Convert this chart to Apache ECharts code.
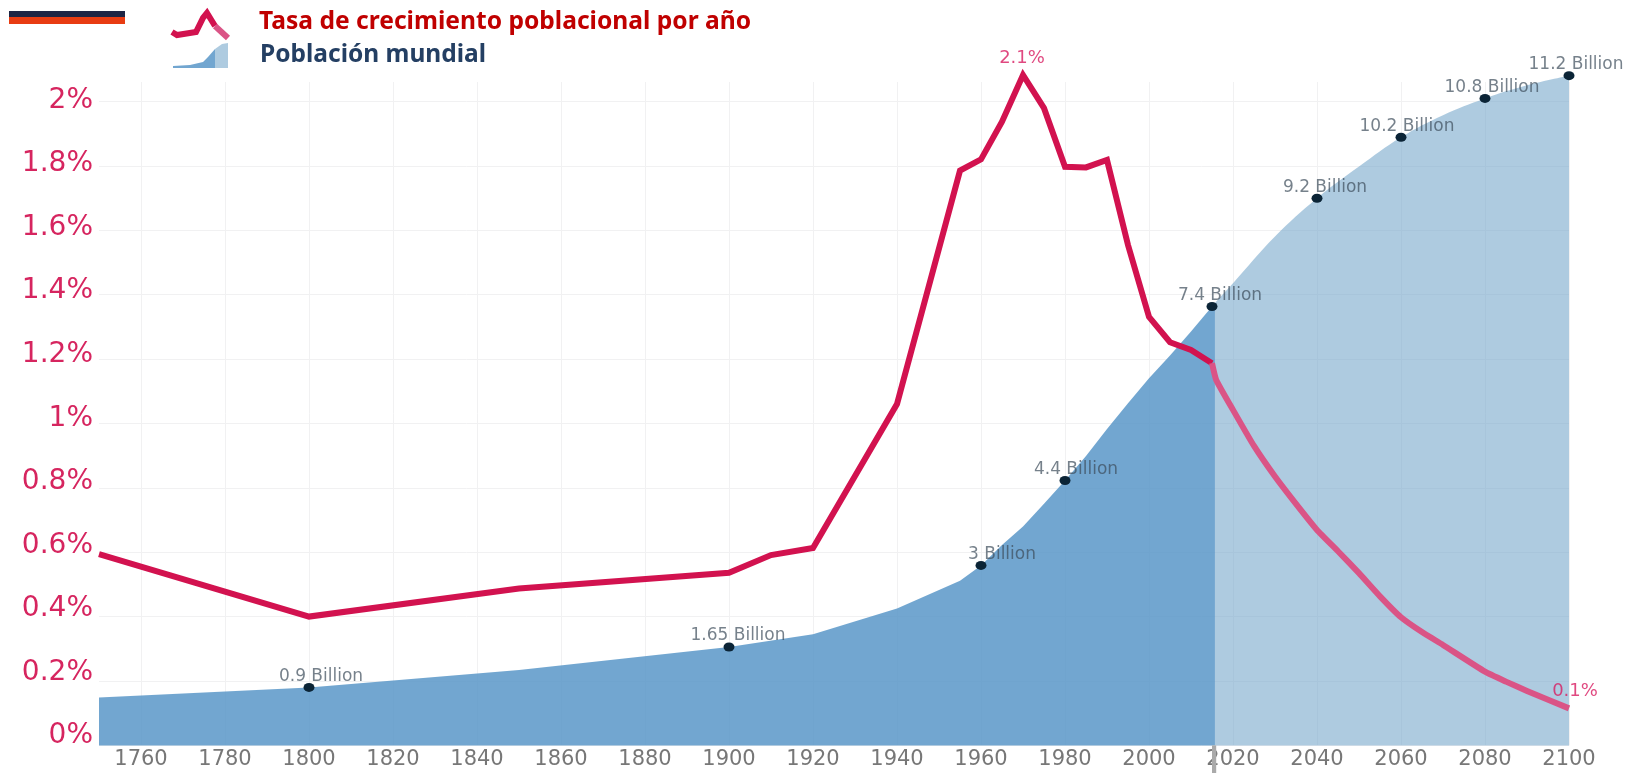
<!DOCTYPE html>
<html>
<head>
<meta charset="utf-8">
<style>html,body{margin:0;padding:0;background:#fff}#chart{width:1636px;height:773px}</style>
<script src="https://cdn.jsdelivr.net/npm/echarts@6/dist/echarts.min.js"></script>
</head>
<body>
<div id="chart"></div>
<script>
const xTickYears = [1760,1780,1800,1820,1840,1860,1880,1900,1920,1940,1960,1980,2000,2020,2040,2060,2080,2100];
const rateTicks = [0,0.2,0.4,0.6,0.8,1,1.2,1.4,1.6,1.8,2];

const rateHistoryYears = [1750,1800,1850,1900,1910,1920,1940,1955,1960,1965,1970,1975,1980,1985,1990,1995,2000,2005,2010,2015];
const rateHistory = [0.594,0.40,0.487,0.536,0.591,0.613,1.06,1.785,1.82,1.937,2.082,1.979,1.797,1.795,1.818,1.554,1.331,1.252,1.228,1.187];
const rateProjectionYears = [2015,2016,2020,2025,2030,2035,2040,2045,2050,2055,2060,2065,2070,2080,2085,2090,2100];
const rateProjection = [1.187,1.135,1.042,0.93,0.835,0.75,0.669,0.603,0.535,0.463,0.398,0.352,0.312,0.229,0.198,0.169,0.115];

const popHistoryYears = [1750,1800,1850,1900,1920,1940,1955,1960,1965,1970,1975,1980,1985,1990,1995,2000,2005,2010,2015,2015.7];
const popHistory = [0.80,0.97,1.26,1.645,1.86,2.29,2.755,3.01,3.35,3.66,4.04,4.43,4.84,5.29,5.72,6.14,6.52,6.92,7.34,7.40];
const popProjectionYears = [2015.7,2020,2030,2040,2050,2060,2070,2080,2090,2100];
const popProjection = [7.40,7.73,8.51,9.15,9.68,10.17,10.54,10.82,11.04,11.2];

const milestoneYears = [1800,1900,1960,1980,2015,2040,2060,2080,2100];
const milestoneValues = [0.97,1.645,3.01,4.43,7.34,9.15,10.17,10.82,11.2];
const milestoneLabels = ['0.9 Billion','1.65 Billion','3 Billion','4.4 Billion','7.4 Billion','9.2 Billion','10.2 Billion','10.8 Billion','11.2 Billion'];

const rateLabelYears = [1970,2100];
const rateLabelValues = [2.082,0.115];
const rateLabels = ['2.1%','0.1%'];

const legendRate = 'Tasa de crecimiento poblacional por año';
const legendPop = 'Población mundial';

const labelDx = [12,9,21,11,8,8,6,7,7];
const rateLabelOffsets = [[-1,-17],[6,-17]];
const pairs = (a, b) => a.map((x, i) => [x, b[i]]);
const RED = '#d2124f', RED_LIGHT = '#da5486', TICK_RED = '#d6255f';
const FONT = '"DejaVu Sans", sans-serif';

const chart = echarts.init(document.getElementById('chart'), null, {renderer: 'canvas'});
chart.setOption({
  animation: false,
  backgroundColor: '#fff',
  grid: {left: 99, right: 67, top: 82, bottom: 27.6, containLabel: false},
  xAxis: {
    type: 'value', min: 1750, max: 2100,
    axisLine: {show: false},
    axisTick: {show: false, customValues: xTickYears},
    axisLabel: {customValues: xTickYears, color: '#777', fontSize: 21, fontFamily: FONT, margin: 4,
      formatter: v => String(v)},
    splitLine: {show: true, lineStyle: {color: '#f1f1f2', width: 1}}
  },
  yAxis: [
    {type: 'value', min: 0, max: 2.0602, interval: 0.2,
     axisLine: {show: false}, axisTick: {show: false}, axisLabel: {show: false},
     splitLine: {show: true, showMaxLine: false, lineStyle: {color: '#f1f1f2', width: 1}}},
    {type: 'value', min: 0, max: 11.094, show: false},
    {type: 'value', min: -0.0296, max: 2.0582, position: 'left',
     axisLine: {show: false}, axisTick: {show: false, customValues: rateTicks}, splitLine: {show: false},
     axisLabel: {customValues: rateTicks, color: TICK_RED, fontSize: 28, fontFamily: FONT, margin: 6,
       formatter: v => v + '%'}}
  ],
  series: [
    {type: 'line', name: 'Población mundial', yAxisIndex: 1, data: pairs(popHistoryYears, popHistory), symbol: 'none',
     lineStyle: {width: 0}, areaStyle: {color: '#5996c8', opacity: 0.85}, clip: false, z: 1},
    {type: 'line', name: 'Población proyectada', yAxisIndex: 1, data: pairs(popProjectionYears, popProjection), symbol: 'none',
     smooth: 0.4, lineStyle: {width: 0}, areaStyle: {color: '#78a8cb', opacity: 0.6}, clip: false, z: 1},
    {type: 'custom', name: 'Hoy', coordinateSystem: 'cartesian2d', clip: false, silent: true, z: 2,
     data: [[2015, 2016]],
     renderItem: (params, api) => {
       const a = api.coord([api.value(0), 0]);
       const b = api.coord([api.value(1), 0]);
       return {type: 'rect', shape: {x: a[0], y: a[1], width: b[0] - a[0], height: api.getHeight() - a[1]},
               style: {fill: '#aaaaaa'}};
     }},
    {type: 'line', name: legendRate, data: pairs(rateHistoryYears, rateHistory), symbol: 'none', clip: false, z: 3,
     lineStyle: {color: RED, width: 6, join: 'miter'}},
    {type: 'line', name: 'Tasa proyectada', data: pairs(rateProjectionYears, rateProjection), symbol: 'none', clip: false, z: 3,
     smooth: 0.15, lineStyle: {color: RED_LIGHT, width: 6, join: 'miter'}},
    {type: 'scatter', name: 'Etiquetas de tasa', clip: false, z: 4, symbol: 'circle', symbolSize: 1, silent: true,
     itemStyle: {color: 'rgba(0,0,0,0)'},
     data: rateLabelYears.map((y, i) => ({
       value: [y, rateLabelValues[i]],
       label: {show: true, position: 'inside', offset: rateLabelOffsets[i], formatter: rateLabels[i],
               color: '#d81b60', fontSize: 18, fontFamily: FONT}
     }))},
    {type: 'scatter', name: 'Hitos', yAxisIndex: 1, clip: false, z: 4, symbol: 'circle', symbolSize: [11, 9],
     itemStyle: {color: '#0b2436', opacity: 1},
     data: milestoneYears.map((y, i) => ({
       value: [y, milestoneValues[i]],
       label: {show: true, position: 'inside', offset: [labelDx[i], -11], formatter: milestoneLabels[i],
               color: 'rgba(60,75,90,0.7)', fontSize: 17, fontFamily: FONT}
     }))}
  ],
  graphic: [
    {type: 'rect', shape: {x: 9, y: 11, width: 116, height: 6}, style: {fill: '#1d2544'}},
    {type: 'rect', shape: {x: 9, y: 17, width: 116, height: 7}, style: {fill: '#e83c12'}},
    {type: 'polyline', shape: {points: [[172,32],[177,35],[196,32],[203,18],[207,13],[215,26]]},
     style: {stroke: RED, lineWidth: 6, fill: null}},
    {type: 'polyline', shape: {points: [[215,26],[228,38]]}, style: {stroke: RED_LIGHT, lineWidth: 6, fill: null}},
    {type: 'polygon', shape: {points: [[173,68],[173,66],[190,65],[203,62],[208,57],[215,49],[215,68]]}, style: {fill: '#72a6d0'}},
    {type: 'polygon', shape: {points: [[215,49],[222,44],[228,43],[228,68],[215,68]]}, style: {fill: '#aecbe0'}},
    {type: 'text', left: 259, top: 9, style: {text: legendRate, fill: '#c00000', font: 'bold 24.6px "Noto Sans"'}},
    {type: 'text', left: 260, top: 43, style: {text: legendPop, fill: '#243f63', font: 'bold 24.5px "Noto Sans"'}}
  ]
});
</script>
</body>
</html>
